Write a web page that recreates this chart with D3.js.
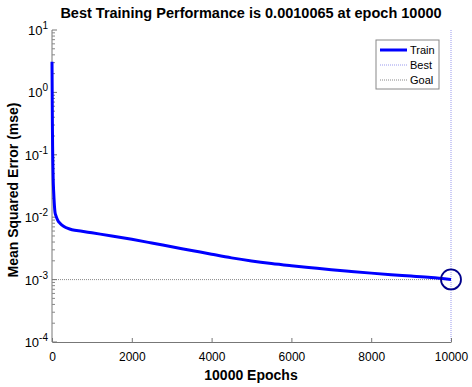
<!DOCTYPE html>
<html><head><meta charset="utf-8">
<script src="https://cdn.jsdelivr.net/npm/d3@7"></script>
<style>body{margin:0;background:#fff}svg{display:block}text{font-family:"Liberation Sans",Arial,Helvetica,sans-serif}</style>
</head><body>
<script>
const epochs = [0,2,5,10,15,20,30,40,50,75,100,150,200,300,400,500,750,1000,1500,2000,2500,3000,3500,4000,4500,5000,5500,6000,6500,7000,7500,8000,8500,9000,9500,10000];
const trainMSE = [3.1,2.0,1.0,0.3,0.14,0.08,0.04,0.027,0.02,0.012,0.0105,0.0088,0.008,0.0071,0.0066,0.0063,0.00596,0.00562,0.00501,0.00442,0.00386,0.00336,0.00293,0.00255,0.00223,0.00199,0.00181,0.00167,0.00155,0.00144,0.00135,0.00127,0.0012,0.00114,0.00108,0.0010065];
const bestEpoch = 10000, bestPerf = 0.0010065, goal = 0.001;
const xTicks = [0,2000,4000,6000,8000,10000];
const yTicks = [1e-4,1e-3,1e-2,1e-1,1e0,1e1];
const yExps = ["-4","-3","-2","-1","0","1"];
const legendItems = ["Train","Best","Goal"];

const W=472,H=387, L=52,R=451,T=30,B=342;
const svg=d3.select("body").append("svg").attr("width",W).attr("height",H);
const x=d3.scaleLinear().domain([0,10000]).range([L,R]);
const y=d3.scaleLog().domain([1e-4,1e1]).range([B,T]);

// title
svg.append("text").attr("x",251).attr("y",18).attr("text-anchor","middle").attr("font-size",14.5).attr("font-weight","bold").text("Best Training Performance is 0.0010065 at epoch 10000");

// goal line
svg.append("line").attr("x1",L).attr("x2",R).attr("y1",y(goal)).attr("y2",y(goal)).attr("stroke","#888").attr("stroke-width",1).attr("stroke-dasharray","1,1");
// best vertical
svg.append("line").attr("x1",x(bestEpoch)).attr("x2",x(bestEpoch)).attr("y1",T).attr("y2",B).attr("stroke","#9999ee").attr("stroke-width",1).attr("stroke-dasharray","1,1");

// axes
const gx=svg.append("g").attr("transform",`translate(0,${B})`).call(d3.axisBottom(x).tickValues(xTicks).tickSizeInner(-4).tickSizeOuter(0).tickFormat(d3.format("d")).tickPadding(10));
gx.select(".domain").attr("stroke","#777");
gx.selectAll(".tick line").attr("stroke","#777");
gx.selectAll("text").attr("font-size",12).attr("fill","#000");

const minor=[];
for(let k=-4;k<1;k++) for(let m=2;m<10;m++) minor.push(m*Math.pow(10,k));
const gy=svg.append("g").attr("transform",`translate(${L},0)`);
gy.append("line").attr("x1",0).attr("x2",0).attr("y1",T).attr("y2",B).attr("stroke","#777");
gy.selectAll(".minor").data(minor).join("line").attr("x1",0).attr("x2",3).attr("y1",d=>y(d)).attr("y2",d=>y(d)).attr("stroke","#888");
gy.selectAll(".major").data(yTicks).join("line").attr("x1",0).attr("x2",5).attr("y1",d=>y(d)).attr("y2",d=>y(d)).attr("stroke","#777");
const lab=gy.selectAll(".lab").data(yTicks).join("text").attr("x",-4).attr("y",d=>y(d)+5).attr("text-anchor","end").attr("font-size",13);
lab.append("tspan").text("10");
lab.append("tspan").attr("dy",-6).attr("font-size",10).text((d,i)=>yExps[i]);

// axis labels
svg.append("text").attr("x",251).attr("y",380).attr("text-anchor","middle").attr("font-size",14).attr("font-weight","bold").text("10000 Epochs");
svg.append("text").attr("transform",`translate(18,190) rotate(-90)`).attr("text-anchor","middle").attr("font-size",14).attr("font-weight","bold").text("Mean Squared Error  (mse)");

// train line
const line=d3.line().x((d,i)=>x(epochs[i])).y(d=>y(d)).curve(d3.curveMonotoneX);
svg.append("path").datum(trainMSE).attr("d",line).attr("fill","none").attr("stroke","#0000ff").attr("stroke-width",3);

// best circle
svg.append("circle").attr("cx",x(bestEpoch)).attr("cy",y(bestPerf)).attr("r",10).attr("fill","none").attr("stroke","#00008b").attr("stroke-width",1.8);

// legend
const lg=svg.append("g");
lg.append("rect").attr("x",376).attr("y",40).attr("width",63).attr("height",49).attr("fill","#fff").attr("stroke","#888");
const styles=[{c:"#0000ff",w:3,da:null},{c:"#9999ee",w:1,da:"1,1"},{c:"#888",w:1,da:"1,1"}];
legendItems.forEach((t,i)=>{
  const yy=50+i*15;
  lg.append("line").attr("x1",380).attr("x2",407).attr("y1",yy).attr("y2",yy).attr("stroke",styles[i].c).attr("stroke-width",styles[i].w).attr("stroke-dasharray",styles[i].da);
  lg.append("text").attr("x",410).attr("y",yy+4).attr("font-size",11).text(t);
});
</script>
</body></html>
